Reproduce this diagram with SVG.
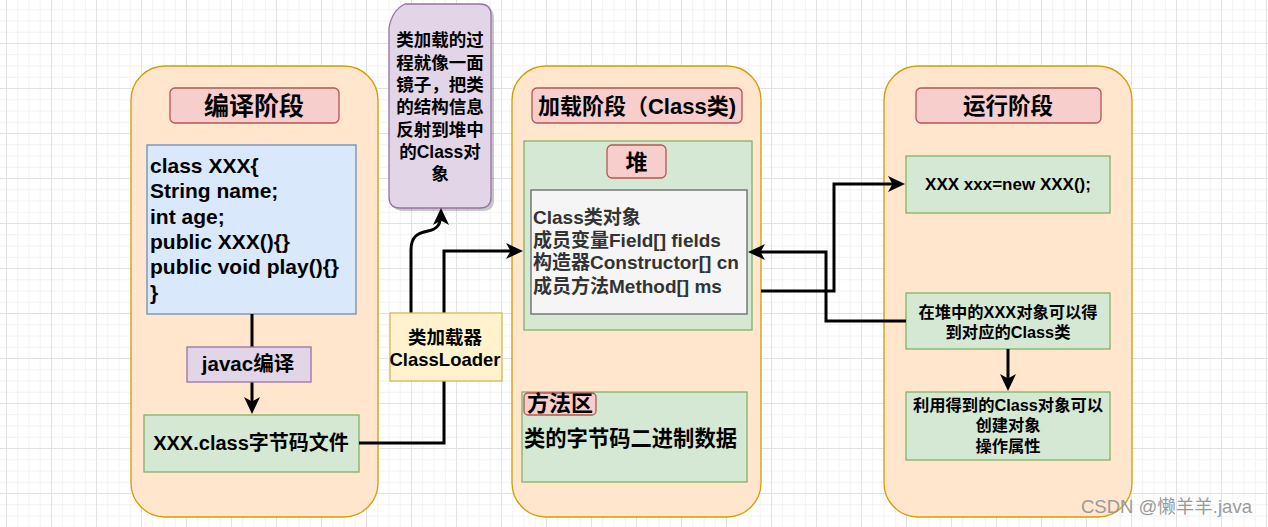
<svg xmlns="http://www.w3.org/2000/svg" width="1268" height="527" viewBox="0 0 1268 527">
<style>
text{font-family:"Liberation Sans","Noto Sans CJK SC",sans-serif;font-weight:bold;fill:#000}
.c{text-anchor:middle}
.cont{fill:#ffe6cc;stroke:#d79b00;stroke-width:1.3}
.pink{fill:#f8cecc;stroke:#b85450;stroke-width:1.3}
.green{fill:#d5e8d4;stroke:#82b366;stroke-width:1.3}
.blue{fill:#dae8fc;stroke:#6c8ebf;stroke-width:1.3}
.purple{fill:#e1d5e7;stroke:#9673a6;stroke-width:1.3}
.yellow{fill:#fff2cc;stroke:#d6b656;stroke-width:1.3}
.gray{fill:#f5f5f5;stroke:#666666;stroke-width:1.3}
.edge{fill:none;stroke:#000;stroke-width:3;marker-end:url(#arr)}
.inner{fill:#333333}
</style>
<defs>
<pattern id="grid" x="6" y="-2" width="45" height="45" patternUnits="userSpaceOnUse">
<path d="M11.75,0V45M23,0V45M34.25,0V45M0,11.75H45M0,23H45M0,34.25H45" stroke="#f2f2f2" stroke-width="1" fill="none"/>
<path d="M0.5,0V45M0,0.5H45" stroke="#e2e2e2" stroke-width="1" fill="none"/>
</pattern>
<marker id="arr" markerUnits="userSpaceOnUse" markerWidth="18" markerHeight="16" refX="13" refY="8" orient="auto">
<path d="M0,0 L17,8 L0,16 L4.5,8 Z" fill="#000"/>
</marker>
</defs>
<rect width="1268" height="527" fill="#ffffff"/>
<rect width="1268" height="527" fill="url(#grid)"/>

<g id="compile-stage">
<rect class="cont" x="131" y="66" width="247" height="451" rx="34"/>
</g>
<g id="compile-title">
<rect class="pink" x="170" y="88" width="169" height="35" rx="5"/>
<text class="c" x="254" y="115" font-size="25">编译阶段</text>
</g>
<g id="source-code">
<rect class="blue" x="147" y="145" width="209" height="169"/>
<text x="150" y="173" font-size="21">class XXX{</text>
<text x="150" y="198" font-size="21">String name;</text>
<text x="150" y="224" font-size="21">int age;</text>
<text x="150" y="249" font-size="21">public XXX(){}</text>
<text x="150" y="274" font-size="21">public void play(){}</text>
<text x="150" y="300" font-size="21">}</text>
</g>
<g id="class-file">
<rect class="green" x="144" y="415" width="215" height="57"/>
<text class="c" x="251" y="450" font-size="20">XXX.class字节码文件</text>
</g>

<g id="load-stage">
<rect class="cont" x="512" y="66" width="249" height="451" rx="34"/>
</g>
<g id="load-title">
<rect class="pink" x="532" y="88" width="210" height="35" rx="5"/>
<text class="c" x="637" y="114" font-size="22">加载阶段（Class类)</text>
</g>
<g id="heap">
<rect class="green" x="524" y="141" width="228" height="189"/>
<rect class="pink" x="607" y="145" width="59" height="33" rx="5"/>
<text class="c" x="636.5" y="170" font-size="22">堆</text>
</g>
<g id="class-object">
<rect class="gray" x="531" y="190" width="216" height="124"/>
<text class="inner" x="533" y="223.5" font-size="19">Class类对象</text>
<text class="inner" x="533" y="246.5" font-size="19">成员变量Field[] fields</text>
<text class="inner" x="533" y="269" font-size="19">构造器Constructor[] cn</text>
<text class="inner" x="533" y="292.5" font-size="19">成员方法Method[] ms</text>
</g>
<g id="method-area">
<rect class="green" x="522" y="392" width="225" height="90"/>
<rect class="pink" x="524" y="393" width="72" height="22" rx="4"/>
<text x="527" y="411" font-size="22">方法区</text>
<text x="524" y="445.5" font-size="21.3">类的字节码二进制数据</text>
</g>

<g id="run-stage">
<rect class="cont" x="884" y="66" width="248" height="451" rx="34"/>
</g>
<g id="run-title">
<rect class="pink" x="916" y="88" width="185" height="35" rx="5"/>
<text class="c" x="1008" y="114" font-size="22.5">运行阶段</text>
</g>
<g id="new-object">
<rect class="green" x="906" y="156" width="204" height="57"/>
<text class="c" x="1008" y="190" font-size="17">XXX xxx=new XXX();</text>
</g>
<g id="get-class">
<rect class="green" x="906" y="293" width="204" height="56"/>
<text class="c" x="1008" y="317.5" font-size="16.3">在堆中的XXX对象可以得</text>
<text class="c" x="1008" y="337.5" font-size="16.3">到对应的Class类</text>
</g>
<g id="use-class">
<rect class="green" x="906" y="392" width="204" height="68"/>
<text class="c" x="1008" y="410.5" font-size="16.3">利用得到的Class对象可以</text>
<text class="c" x="1008" y="431" font-size="16.3">创建对象</text>
<text class="c" x="1008" y="451.5" font-size="16.3">操作属性</text>
</g>

<g id="mirror-note">
<path d="M408,7 L483,7 Q494,7 494,18 L494,200 Q494,211 483,211 L403,211 Q392,211 392,200 L392,31 Q395,13 408,7 Z" fill="#000" opacity="0.22"/>
<path class="purple" d="M405,4 L480,4 Q491,4 491,15 L491,197 Q491,208 480,208 L400,208 Q389,208 389,197 L389,28 Q392,10 405,4 Z"/>
<text class="c" x="440" y="46" font-size="17.5">类加载的过</text>
<text class="c" x="440" y="68.5" font-size="17.5">程就像一面</text>
<text class="c" x="440" y="91" font-size="17.5">镜子，把类</text>
<text class="c" x="440" y="113" font-size="17.5">的结构信息</text>
<text class="c" x="440" y="136" font-size="17.5">反射到堆中</text>
<text class="c" x="440" y="158" font-size="17.5">的Class对</text>
<text class="c" x="440" y="180" font-size="17.5">象</text>
</g>

<g id="connectors">
<path class="edge" d="M252,314 L252,410"/>
<path class="edge" d="M359,443 L444,443 L444,251 L519,251"/>
<path class="edge" d="M411,313 L411,250 C411,236 418,233 428,231 C438,229 441,224 441,212"/>
<path class="edge" d="M761,291 L834,291 L834,184 L901,184"/>
<path class="edge" d="M906,321 L826,321 L826,252 L752,252"/>
<path class="edge" d="M1008,349 L1008,387"/>
</g>

<g id="javac-label">
<rect class="purple" x="187" y="347" width="124" height="35"/>
<text class="c" x="248" y="371" font-size="20.5">javac编译</text>
</g>
<g id="classloader">
<rect class="yellow" x="390" y="313" width="112" height="68"/>
<text class="c" x="445" y="343.5" font-size="18.5">类加载器</text>
<text class="c" x="445" y="365.5" font-size="18.5">ClassLoader</text>
</g>

<text x="1081" y="513" font-size="18.5" style="font-weight:normal;fill:#9a9a9a">CSDN @懒羊羊.java</text>
</svg>
